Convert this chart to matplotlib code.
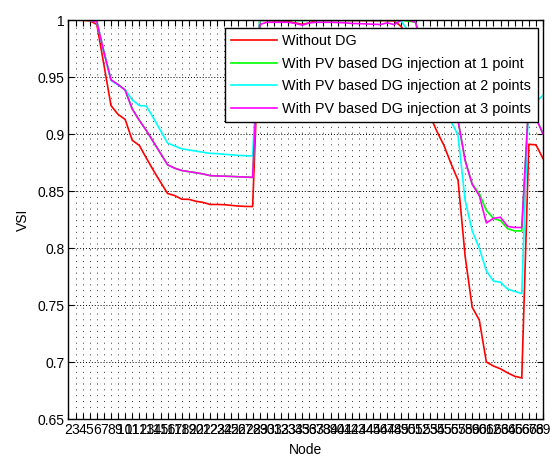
import matplotlib
matplotlib.use("Agg")
import matplotlib.pyplot as plt

plt.rcParams['font.family'] = ['Liberation Sans', 'DejaVu Sans']

nodes = list(range(2, 70))

vsi_without_dg = [
    1.0000, 0.9999, 0.9997, 0.9994, 0.9961, 0.9608, 0.9250, 0.9172, 0.9128, 0.8945,
    0.8900, 0.8788, 0.8680, 0.8577, 0.8478, 0.8460, 0.8428, 0.8427, 0.8410, 0.8400,
    0.8382, 0.8382, 0.8380, 0.8374, 0.8368, 0.8365, 0.8364,
    0.9997, 0.9996, 0.9993, 0.9992, 0.9988, 0.9975, 0.9962, 0.9975, 0.9997, 0.9996,
    0.9996, 0.9996, 0.9996, 0.9995, 0.9995, 0.9995, 0.9995, 0.9995, 0.9994, 0.9992,
    0.9942, 0.9790, 0.9769, 0.9169, 0.9168, 0.9025, 0.8902, 0.8742, 0.8595, 0.7930,
    0.7480, 0.7370, 0.7000, 0.6965, 0.6940, 0.6905, 0.6875, 0.6860, 0.8910, 0.8905,
    0.8785,
]

vsi_dg_1 = [
    1.0000, 1.0000, 0.9999, 0.9998, 0.9985, 0.9720, 0.9475, 0.9435, 0.9385, 0.9220,
    0.9120, 0.9030, 0.8930, 0.8830, 0.8730, 0.8700, 0.8680, 0.8670, 0.8660, 0.8650,
    0.8635, 0.8632, 0.8630, 0.8628, 0.8625, 0.8622, 0.8620,
    0.9998, 0.9998, 0.9998, 0.9998, 0.9998, 0.9997, 0.9996, 0.9998, 0.9998, 0.9998,
    0.9998, 0.9998, 0.9998, 0.9998, 0.9998, 0.9998, 0.9998, 0.9998, 0.9998, 0.9998,
    0.9998, 0.9990, 0.9980, 0.9750, 0.9700, 0.9600, 0.9450, 0.9280, 0.9120, 0.8770,
    0.8560, 0.8480, 0.8330, 0.8260, 0.8240, 0.8170, 0.8150, 0.8150, 0.9300, 0.9150,
    0.9000,
]

vsi_dg_2 = [
    1.0000, 1.0000, 0.9999, 0.9998, 0.9985, 0.9720, 0.9470, 0.9430, 0.9390, 0.9300,
    0.9250, 0.9245, 0.9140, 0.9030, 0.8920, 0.8895, 0.8870, 0.8860, 0.8850, 0.8840,
    0.8830, 0.8828, 0.8822, 0.8818, 0.8812, 0.8810, 0.8808,
    0.9998, 0.9998, 0.9998, 0.9998, 0.9998, 0.9997, 0.9996, 0.9998, 0.9998, 0.9998,
    0.9998, 0.9998, 0.9998, 0.9998, 0.9998, 0.9998, 0.9998, 0.9998, 0.9998, 0.9998,
    0.9990, 0.9900, 0.9880, 0.9650, 0.9620, 0.9500, 0.9300, 0.9115, 0.8990, 0.8420,
    0.8150, 0.8000, 0.7800, 0.7710, 0.7700, 0.7640, 0.7620, 0.7600, 0.9350, 0.9280,
    0.9340,
]

vsi_dg_3 = [
    1.0000, 1.0000, 0.9999, 0.9998, 0.9985, 0.9720, 0.9475, 0.9435, 0.9385, 0.9220,
    0.9120, 0.9030, 0.8930, 0.8830, 0.8730, 0.8700, 0.8680, 0.8670, 0.8660, 0.8650,
    0.8635, 0.8632, 0.8630, 0.8628, 0.8625, 0.8622, 0.8620,
    0.9960, 0.9980, 0.9980, 0.9980, 0.9980, 0.9970, 0.9955, 0.9975, 0.9980, 0.9980,
    0.9980, 0.9978, 0.9975, 0.9970, 0.9968, 0.9966, 0.9963, 0.9960, 0.9975, 0.9960,
    1.0000, 1.0000, 0.9980, 0.9750, 0.9700, 0.9600, 0.9450, 0.9280, 0.9120, 0.8770,
    0.8560, 0.8460, 0.8220, 0.8260, 0.8270, 0.8190, 0.8180, 0.8180, 0.9300, 0.9140,
    0.9000,
]

series_labels = [
    "Without DG",
    "With PV based DG injection at 1 point",
    "With PV based DG injection at 2 points",
    "With PV based DG injection at 3 points",
]
series_colors = ["#ff0000", "#00ff00", "#00ffff", "#ff00ff"]
y_ticks = [0.65, 0.7, 0.75, 0.8, 0.85, 0.9, 0.95, 1.0]
y_tick_labels = ["0.65", "0.7", "0.75", "0.8", "0.85", "0.9", "0.95", "1"]

fig = plt.figure(figsize=(5.55, 4.59), dpi=100)
ax = fig.add_axes([0.1234, 0.0871, 0.8550, 0.8693])

for vals, lab, col in zip([vsi_without_dg, vsi_dg_1, vsi_dg_2, vsi_dg_3], series_labels, series_colors):
    ax.plot(nodes, vals, color=col, lw=1.2, label=lab)

ax.set_xlim(2, 69)
ax.set_ylim(0.65, 1.0)
ax.set_xticks(nodes)
ax.set_xticklabels([str(n) for n in nodes], fontsize=10)
ax.set_yticks(y_ticks)
ax.set_yticklabels(y_tick_labels, fontsize=10)

ax.grid(axis='x', color='#333333', linestyle=(0, (1, 5)), lw=0.7)
ax.grid(axis='y', color='black', linestyle=(0, (1, 2)), lw=0.7)
ax.set_axisbelow(True)

ax.tick_params(direction='in', top=True, right=True, length=4, width=0.8, pad=3)
for s in ax.spines.values():
    s.set_linewidth(1.0)

ax.set_xlabel("Node", fontsize=10, labelpad=4)
ax.set_ylabel("VSI", fontsize=10, labelpad=5)

leg = ax.legend(loc='upper right', bbox_to_anchor=(0.989, 0.98), borderaxespad=0,
                prop={'size': 10.4}, fancybox=False, framealpha=1, edgecolor='black',
                handlelength=3.2, handletextpad=0.35, borderpad=0.45, labelspacing=0.58)
leg.get_frame().set_linewidth(1.0)

fig.savefig("out.png", dpi=100)
